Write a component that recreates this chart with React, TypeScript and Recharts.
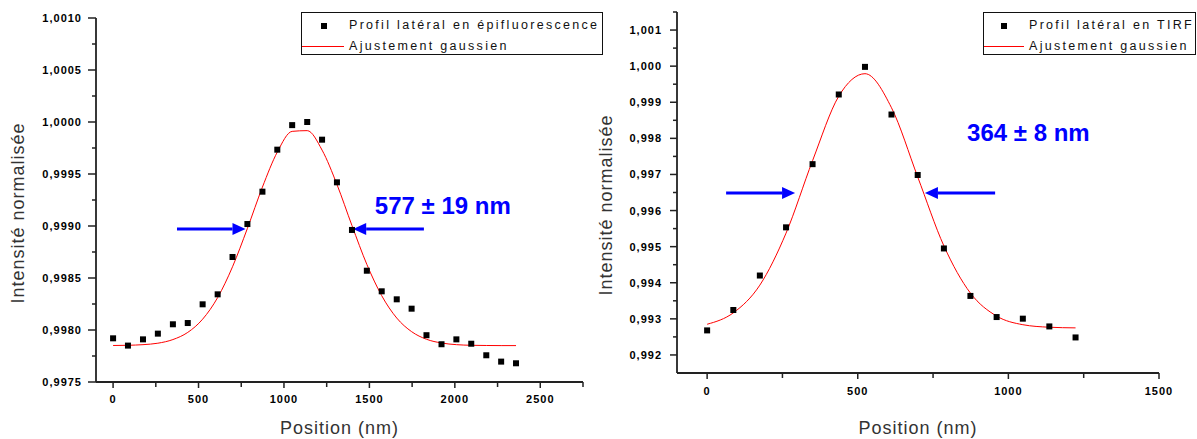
import {
	ComposedChart,
	Legend,
	Line,
	ReferenceDot,
	ReferenceLine,
	Scatter,
	XAxis,
	YAxis,
} from 'recharts';

const font = '"Liberation Sans", Arial, sans-serif';
const blue = '#0000ff';

// épifluorescence (left panel)
const epiPositions = [
	0, 87, 175, 262, 350, 437, 524, 612, 699, 786, 874, 961, 1048, 1136, 1223,
	1310, 1398, 1485, 1572, 1660, 1747, 1834, 1922, 2009, 2096, 2184, 2271, 2358,
];
const epiProfile = [
	0.99792, 0.99785, 0.99791, 0.997965, 0.998055, 0.998067, 0.998247, 0.998343,
	0.998702, 0.999019, 0.99933, 0.999734, 0.99997, 1.0, 0.99983, 0.99942,
	0.998962, 0.99857, 0.998372, 0.998295, 0.998205, 0.99795, 0.997863, 0.99791,
	0.997868, 0.997757, 0.997696, 0.99768,
];
const epiFit = [
	0.997851, 0.997853, 0.997859, 0.997873, 0.997908, 0.997977, 0.998104,
	0.998312, 0.998608, 0.998977, 0.999374, 0.999711, 0.99991, 0.999917, 0.99973,
	0.9994, 0.999004, 0.998631, 0.99833, 0.998115, 0.997984, 0.997911, 0.997875,
	0.997859, 0.997853, 0.997851, 0.99785, 0.99785,
];
const epiXTicks = [0, 250, 500, 750, 1000, 1250, 1500, 1750, 2000, 2250, 2500, 2750];
const epiYTicks = [
	0.9975, 0.99775, 0.998, 0.99825, 0.9985, 0.99875, 0.999, 0.99925, 0.9995,
	0.99975, 1.0, 1.00025, 1.0005, 1.00075, 1.001,
];

// TIRF (right panel)
const tirfPositions = [0, 87, 175, 262, 350, 437, 524, 612, 699, 786, 874, 961, 1048, 1136, 1223];
const tirfProfile = [
	0.99268, 0.993245, 0.9942, 0.995535, 0.997285, 0.999215, 0.99998, 0.99866,
	0.996985, 0.99495, 0.993635, 0.99305, 0.993005, 0.99279, 0.992485,
];
const tirfFit = [
	0.99285, 0.993167, 0.993934, 0.995375, 0.997382, 0.999168, 0.999791,
	0.998848, 0.996931, 0.99502, 0.993714, 0.993077, 0.992838, 0.992768, 0.99275,
];
const tirfXTicks = [0, 250, 500, 750, 1000, 1250, 1500];
const tirfYTicks = [
	0.992, 0.9925, 0.993, 0.9935, 0.994, 0.9945, 0.995, 0.9955, 0.996, 0.9965,
	0.997, 0.9975, 0.998, 0.9985, 0.999, 0.9995, 1.0, 1.0005, 1.001, 1.0015,
];

const toPoints = (xs: number[], ys: number[]) => xs.map((x, i) => ({ x, y: ys[i] }));

const isMajor = (v: number, step: number) =>
	Math.abs(v / step - Math.round(v / step)) < 1e-6;

function YTick({ x, y, payload, step, digits, gap, len }: any) {
	const major = isMajor(payload.value, step);
	return (
		<g>
			<line x1={x} x2={x - (major ? len : 4)} y1={y} y2={y} stroke="#222" strokeWidth={1.5} />
			{major && (
				<text
					x={x - gap}
					y={y}
					textAnchor="end"
					dominantBaseline="central"
					fontFamily={font}
					fontWeight="bold"
					fontSize={11}
					letterSpacing={1}
					fill="#000"
				>
					{payload.value.toFixed(digits).replace('.', ',')}
				</text>
			)}
		</g>
	);
}

function XTick({ x, y, payload, dy }: any) {
	const major = isMajor(payload.value, 500);
	return (
		<g>
			<line x1={x} x2={x} y1={y} y2={y + (major ? 6 : 5)} stroke="#222" strokeWidth={1.5} />
			{major && (
				<text
					x={x}
					y={y + dy}
					textAnchor="middle"
					dominantBaseline="central"
					fontFamily={font}
					fontWeight="bold"
					fontSize={11}
					letterSpacing={1}
					fill="#000"
				>
					{payload.value}
				</text>
			)}
		</g>
	);
}

function XTitle({ viewBox }: any) {
	return (
		<text
			x={viewBox.x + viewBox.width / 2}
			y={viewBox.y + viewBox.height - 5}
			textAnchor="middle"
			fontFamily={font}
			fontSize={18}
			letterSpacing={1}
			fill="#333"
		>
			Position (nm)
		</text>
	);
}

function YTitle({ viewBox, dx, dy }: any) {
	const cx = viewBox.x + dx;
	const cy = viewBox.y + viewBox.height / 2 + dy;
	return (
		<text
			x={cx}
			y={cy}
			transform={`rotate(-90, ${cx}, ${cy})`}
			textAnchor="middle"
			dominantBaseline="central"
			fontFamily={font}
			fontSize={18}
			letterSpacing={1}
			fill="#333"
		>
			Intensité normalisée
		</text>
	);
}

function Arrow({ x1, y1, x2, y2 }: any) {
	const dir = Math.sign(x2 - x1);
	const head = 13;
	return (
		<g>
			<line x1={x1} y1={y1} x2={x2 - dir * head} y2={y2} stroke={blue} strokeWidth={3} />
			<polygon
				points={`${x2},${y2} ${x2 - dir * head},${y2 - 6} ${x2 - dir * head},${y2 + 6}`}
				fill={blue}
			/>
		</g>
	);
}

function Width({ cx, cy, text }: any) {
	return (
		<text x={cx} y={cy} fontFamily={font} fontWeight="bold" fontSize={24} fill={blue}>
			{text}
		</text>
	);
}

const square = (p: any) => <rect x={p.cx - 3} y={p.cy - 3} width={6} height={6} fill="#000" />;

function LegendBox({ label, marker, textLeft }: any) {
	const row = { position: 'absolute' as const, left: textLeft, lineHeight: '14px', whiteSpace: 'nowrap' as const };
	return (
		<div
			style={{
				position: 'relative',
				height: 43,
				border: '1.5px solid #111',
				boxSizing: 'border-box',
				background: '#fff',
				fontFamily: font,
				fontSize: 12.5,
				letterSpacing: 2.3,
				color: '#111',
			}}
		>
			<div style={{ position: 'absolute', left: marker - 3, top: 10, width: 6, height: 6, background: '#000' }} />
			<div style={{ ...row, top: 5 }}>{label}</div>
			<div style={{ position: 'absolute', left: 0, top: 33, width: textLeft - 5, height: 1, background: '#ff0000' }} />
			<div style={{ ...row, top: 26 }}>Ajustement gaussien</div>
		</div>
	);
}

export default function App() {
	const epiPoints = toPoints(epiPositions, epiProfile);
	const epiCurve = toPoints(epiPositions, epiFit);
	const tirfPoints = toPoints(tirfPositions, tirfProfile);
	const tirfCurve = toPoints(tirfPositions, tirfFit);

	return (
		<div style={{ position: 'absolute', left: 0, top: 0, width: 1197, height: 439, background: '#fff' }}>
			<div style={{ position: 'absolute', left: 0, top: 0 }}>
				<ComposedChart width={620} height={439} margin={{ top: 18, right: 37, bottom: 0, left: 0 }}>
					<XAxis
						type="number"
						dataKey="x"
						domain={[-100, 2750]}
						ticks={epiXTicks}
						interval={0}
						allowDataOverflow
						height={57}
						tickSize={0}
						tickMargin={0}
						tickLine={false}
						stroke="#222"
						strokeWidth={1.8}
						tick={(p: any) => <XTick {...p} dy={17} />}
						label={{ content: XTitle }}
					/>
					<YAxis
						type="number"
						dataKey="y"
						domain={[0.9975, 1.001]}
						ticks={epiYTicks}
						interval={0}
						allowDataOverflow
						width={96}
						tickSize={0}
						tickMargin={0}
						tickLine={false}
						stroke="#222"
						strokeWidth={1.8}
						tick={(p: any) => <YTick {...p} step={0.0005} digits={4} gap={14} len={8} />}
						label={{ content: (p: any) => <YTitle {...p} dx={18} dy={13} /> }}
					/>
					<Legend
						layout="vertical"
						align="center"
						verticalAlign="middle"
						content={() => <LegendBox label="Profil latéral en épifluorescence" marker={22} textLeft={47} />}
						wrapperStyle={{ left: 301, top: 12, width: 302 }}
					/>
					<Line
						data={epiCurve}
						dataKey="y"
						type="monotone"
						stroke="#ff0000"
						strokeWidth={1}
						dot={false}
						isAnimationActive={false}
					/>
					<Scatter data={epiPoints} dataKey="y" shape={square} isAnimationActive={false} />
					<ReferenceLine segment={[{ x: 374, y: 0.998971 }, { x: 775, y: 0.998971 }]} shape={Arrow} />
					<ReferenceLine segment={[{ x: 1819, y: 0.998971 }, { x: 1405, y: 0.998971 }]} shape={Arrow} />
					<ReferenceDot x={1532} y={0.99912} shape={(p: any) => <Width {...p} text="577 ± 19 nm" />} />
				</ComposedChart>
			</div>
			<div style={{ position: 'absolute', left: 590, top: 0 }}>
				<ComposedChart width={607} height={439} margin={{ top: 12, right: 38, bottom: 0, left: 0 }}>
					<XAxis
						type="number"
						dataKey="x"
						domain={[-100, 1500]}
						ticks={tirfXTicks}
						interval={0}
						allowDataOverflow
						height={66}
						tickSize={0}
						tickMargin={0}
						tickLine={false}
						stroke="#222"
						strokeWidth={1.8}
						tick={(p: any) => <XTick {...p} dy={18} />}
						label={{ content: XTitle }}
					/>
					<YAxis
						type="number"
						dataKey="y"
						domain={[0.9915, 1.0015]}
						ticks={tirfYTicks}
						interval={0}
						allowDataOverflow
						width={87}
						tickSize={0}
						tickMargin={0}
						tickLine={false}
						stroke="#222"
						strokeWidth={1.8}
						tick={(p: any) => <YTick {...p} step={0.001} digits={3} gap={15} len={7} />}
						label={{ content: (p: any) => <YTitle {...p} dx={15.5} dy={12.5} /> }}
					/>
					<Legend
						layout="vertical"
						align="center"
						verticalAlign="middle"
						content={() => <LegendBox label="Profil latéral en TIRF" marker={20} textLeft={45} />}
						wrapperStyle={{ left: 393, top: 12, width: 213 }}
					/>
					<Line
						data={tirfCurve}
						dataKey="y"
						type="monotone"
						stroke="#ff0000"
						strokeWidth={1}
						dot={false}
						isAnimationActive={false}
					/>
					<Scatter data={tirfPoints} dataKey="y" shape={square} isAnimationActive={false} />
					<ReferenceLine segment={[{ x: 63, y: 0.996486 }, { x: 292, y: 0.996486 }]} shape={Arrow} />
					<ReferenceLine segment={[{ x: 956, y: 0.996486 }, { x: 723, y: 0.996486 }]} shape={Arrow} />
					<ReferenceDot x={863} y={0.997921} shape={(p: any) => <Width {...p} text="364 ± 8 nm" />} />
				</ComposedChart>
			</div>
		</div>
	);
}
